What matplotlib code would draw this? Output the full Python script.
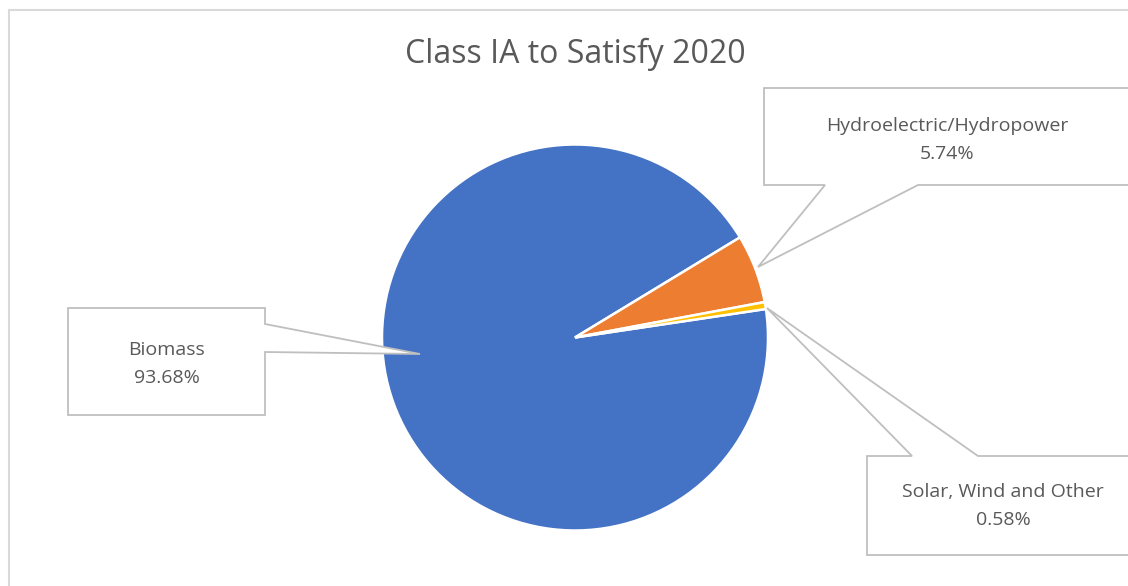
import matplotlib.pyplot as plt
from matplotlib.patches import Polygon, Rectangle

# data
categories = ["Biomass", "Hydroelectric/Hydropower", "Solar, Wind and Other"]
shares = [93.68, 5.74, 0.58]
colors = ["#4472C4", "#ED7D31", "#FFC000"]
title = "Class IA to Satisfy 2020"

W, H = 1128, 586
TEXT = "#595959"
EDGE = "#BFBFBF"


def py(y):
    # pixel row (top down) -> data y (bottom up)
    return H - y


def callout(ax, box, base, tip, lines, text_xy):
    # box = (x0, y0, x1, y1) in pixels, base = two points on the box edge, tip = pointer end
    x0, y0, x1, y1 = box
    (bx0, by0), (bx1, by1) = base
    if bx0 == x1 and bx1 == x1:  # right edge
        pts = [(x0, y0), (x1, y0), (x1, by0), tip, (x1, by1), (x1, y1), (x0, y1)]
    elif by0 == y1 and by1 == y1:  # bottom edge
        pts = [(x0, y0), (x1, y0), (x1, y1), (bx1, y1), tip, (bx0, y1), (x0, y1)]
    else:  # top edge
        pts = [(x0, y0), (bx0, y0), tip, (bx1, y0), (x1, y0), (x1, y1), (x0, y1)]
    pts = [(x, py(y)) for x, y in pts]
    ax.add_patch(Polygon(pts, closed=True, facecolor="white", edgecolor=EDGE,
                         linewidth=1.3, zorder=5, clip_on=False))
    cx, cy = text_xy
    ax.text(cx, py(cy - 14), lines[0], ha="center", va="center",
            fontsize=14, color=TEXT, family="Open Sans", zorder=6)
    ax.text(cx, py(cy + 14), lines[1], ha="center", va="center",
            fontsize=14, color=TEXT, family="Open Sans", zorder=6)


fig = plt.figure(figsize=(W / 100, H / 100), dpi=100)
ax = fig.add_axes([0, 0, 1, 1])

# chart frame (runs off the right and bottom)
ax.add_patch(Rectangle((9, py(700)), 1300, 690, facecolor="none",
                       edgecolor="#D9D9D9", linewidth=1.5, clip_on=False))

ax.pie(shares, colors=colors, startangle=8.5, counterclock=False,
       center=(575, py(337.5)), radius=193, frame=True,
       wedgeprops=dict(edgecolor="white", linewidth=1.8))
ax.set_xlim(0, W)
ax.set_ylim(0, H)
ax.set_aspect("equal")
ax.axis("off")

ax.text(575, py(54), title, ha="center", va="center", fontsize=23,
        color=TEXT, family="Open Sans")

labels = [f"{s:.2f}%" for s in shares]
callout(ax, (68, 308, 265, 415), ((265, 324), (265, 352)), (420, 354),
        (categories[0], labels[0]), (167, 364))
callout(ax, (764, 88, 1140, 185), ((825, 185), (918, 185)), (758, 267),
        (categories[1], labels[1]), (947, 140))
callout(ax, (867, 456, 1140, 555), ((912, 456), (978, 456)), (767, 308),
        (categories[2], labels[2]), (1003, 506))

fig.savefig("out.png", dpi=100)
